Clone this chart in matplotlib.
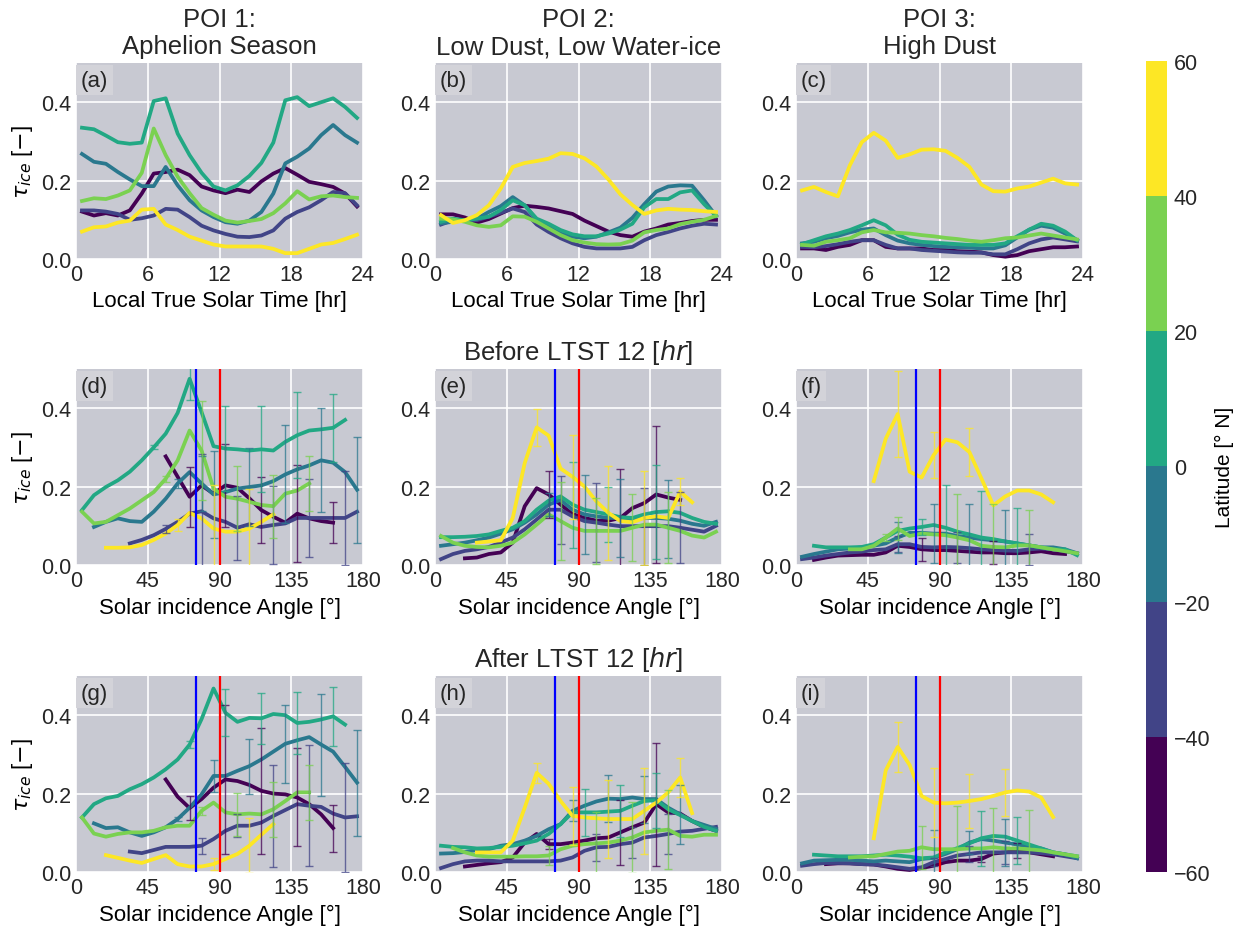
import numpy as np
import matplotlib.pyplot as plt
import matplotlib as mpl

plt.rcParams["font.family"] = ["Liberation Sans", "DejaVu Sans"]
plt.rcParams["axes.facecolor"] = "#c8c9d2"
plt.rcParams["axes.edgecolor"] = "none"
plt.rcParams["grid.color"] = "white"
plt.rcParams["grid.linewidth"] = 1.2
plt.rcParams["xtick.major.size"] = 0
plt.rcParams["ytick.major.size"] = 0
plt.rcParams["xtick.labelsize"] = 15.5
plt.rcParams["ytick.labelsize"] = 15.5
plt.rcParams["text.color"] = "#262626"
plt.rcParams["xtick.color"] = "#262626"
plt.rcParams["ytick.color"] = "#262626"

nan = np.nan

# -- data --
latitudes = [-50, -30, -10, 10, 30, 50]
ltst = np.arange(0.5, 24, 1.0)          # local true solar time bins [hr]
sza = np.arange(3.75, 180, 7.5)         # solar incidence angle bins [deg]
sza_blue = 75
sza_red = 90

# row 1: tau_ice vs LTST, one row per latitude band (-50 ... 50)
tau_a = [
    [0.121,0.111,0.117,0.111,0.124,0.167,0.218,0.222,0.228,0.214,0.185,0.175,0.168,0.177,0.171,0.198,0.218,0.232,0.215,0.197,0.191,0.184,0.167,0.134],
    [0.124,0.124,0.121,0.115,0.100,0.104,0.111,0.128,0.126,0.107,0.085,0.073,0.064,0.057,0.056,0.060,0.073,0.103,0.120,0.132,0.150,0.171,0.168,0.137],
    [0.268,0.248,0.243,0.222,0.203,0.186,0.186,0.235,0.188,0.150,0.124,0.107,0.094,0.090,0.098,0.120,0.167,0.244,0.261,0.282,0.316,0.342,0.316,0.297],
    [0.335,0.331,0.315,0.298,0.294,0.297,0.403,0.410,0.320,0.265,0.220,0.185,0.175,0.188,0.212,0.245,0.297,0.405,0.413,0.390,0.400,0.410,0.388,0.360],
    [0.148,0.155,0.153,0.162,0.175,0.220,0.333,0.265,0.210,0.168,0.130,0.113,0.098,0.093,0.097,0.102,0.117,0.142,0.173,0.152,0.160,0.162,0.158,0.156],
    [0.070,0.081,0.083,0.093,0.098,0.126,0.128,0.088,0.074,0.057,0.047,0.037,0.032,0.032,0.032,0.032,0.026,0.015,0.015,0.026,0.037,0.041,0.051,0.062],
]
tau_b = [
    [0.114,0.114,0.106,0.093,0.102,0.116,0.130,0.136,0.133,0.129,0.122,0.115,0.098,0.084,0.070,0.061,0.057,0.070,0.078,0.088,0.092,0.097,0.100,0.100],
    [0.088,0.099,0.099,0.099,0.108,0.118,0.129,0.120,0.088,0.069,0.053,0.040,0.031,0.027,0.027,0.027,0.031,0.048,0.061,0.069,0.078,0.085,0.090,0.088],
    [0.091,0.095,0.099,0.103,0.120,0.135,0.158,0.137,0.100,0.082,0.065,0.057,0.053,0.057,0.068,0.080,0.105,0.140,0.172,0.185,0.188,0.187,0.150,0.110],
    [0.095,0.103,0.099,0.103,0.108,0.125,0.150,0.137,0.103,0.090,0.074,0.063,0.058,0.058,0.065,0.075,0.090,0.132,0.153,0.153,0.170,0.175,0.140,0.110],
    [0.103,0.101,0.095,0.086,0.082,0.086,0.109,0.108,0.095,0.078,0.061,0.048,0.042,0.038,0.037,0.038,0.047,0.068,0.074,0.078,0.089,0.095,0.100,0.110],
    [0.112,0.092,0.099,0.112,0.137,0.180,0.235,0.245,0.250,0.256,0.270,0.268,0.257,0.236,0.203,0.165,0.138,0.115,0.124,0.128,0.126,0.125,0.122,0.120],
]
tau_c = [
    [0.027,0.027,0.023,0.031,0.036,0.048,0.048,0.031,0.027,0.027,0.027,0.023,0.023,0.020,0.019,0.017,0.010,0.006,0.010,0.020,0.025,0.030,0.030,0.032],
    [0.031,0.030,0.033,0.038,0.044,0.048,0.048,0.036,0.027,0.027,0.023,0.021,0.019,0.017,0.016,0.016,0.012,0.012,0.025,0.040,0.050,0.055,0.050,0.045],
    [0.040,0.044,0.053,0.059,0.068,0.075,0.078,0.061,0.047,0.040,0.036,0.033,0.031,0.030,0.029,0.027,0.027,0.035,0.055,0.075,0.085,0.080,0.065,0.048],
    [0.038,0.048,0.058,0.065,0.074,0.086,0.099,0.086,0.062,0.049,0.044,0.042,0.040,0.038,0.036,0.036,0.036,0.040,0.058,0.075,0.090,0.085,0.070,0.048],
    [0.036,0.034,0.044,0.048,0.053,0.068,0.074,0.068,0.067,0.065,0.061,0.058,0.054,0.051,0.047,0.044,0.048,0.053,0.055,0.060,0.065,0.060,0.055,0.050],
    [0.175,0.184,0.171,0.160,0.239,0.298,0.322,0.302,0.258,0.267,0.279,0.280,0.276,0.258,0.235,0.190,0.173,0.172,0.180,0.185,0.195,0.205,0.193,0.190],
]

# row 2: before LTST 12, tau_ice vs solar incidence angle
tau_d = [
    [nan,nan,nan,nan,nan,nan,nan,0.277,0.225,0.174,0.203,0.182,0.203,0.197,0.170,0.140,0.123,0.108,0.131,0.119,0.112,0.108,nan,nan],
    [nan,nan,nan,nan,0.055,0.064,0.076,0.092,0.110,0.131,0.137,0.119,0.110,0.095,0.104,0.097,0.102,0.106,0.120,0.120,0.120,0.120,0.120,0.136],
    [nan,0.097,0.110,0.119,0.112,0.110,0.136,0.169,0.208,0.237,0.208,0.180,0.186,0.195,0.199,0.203,0.214,0.231,0.244,0.254,0.267,0.261,0.237,0.192],
    [0.140,0.178,0.199,0.216,0.238,0.267,0.300,0.335,0.388,0.475,0.390,0.303,0.297,0.295,0.292,0.295,0.292,0.314,0.331,0.343,0.346,0.350,0.370,nan],
    [0.136,0.106,0.110,0.127,0.144,0.165,0.186,0.220,0.267,0.343,0.292,0.195,0.174,0.169,0.161,0.153,0.150,0.182,0.190,0.208,nan,nan,nan,nan],
    [nan,nan,0.044,0.044,0.045,0.051,0.064,0.080,0.102,0.133,0.119,0.093,0.085,0.085,0.093,0.110,0.129,nan,nan,nan,nan,nan,nan,nan],
]
tau_e = [
    [nan,nan,0.017,0.019,0.028,0.032,0.057,0.150,0.196,0.180,0.154,0.130,0.120,0.113,0.113,0.120,0.145,0.158,0.180,0.172,0.166,nan,nan,nan],
    [0.015,0.028,0.036,0.040,0.046,0.057,0.070,0.091,0.116,0.141,0.141,0.124,0.112,0.108,0.103,0.099,0.099,0.099,0.099,0.099,0.095,0.090,0.085,0.100],
    [0.049,0.053,0.057,0.063,0.070,0.080,0.091,0.108,0.129,0.154,0.166,0.141,0.129,0.124,0.120,0.120,0.116,0.120,0.120,0.118,0.113,0.105,0.100,0.110],
    [0.071,0.071,0.072,0.074,0.078,0.087,0.095,0.112,0.141,0.164,0.175,0.154,0.141,0.135,0.129,0.122,0.120,0.129,0.135,0.137,0.133,0.120,0.110,0.105],
    [0.074,0.057,0.049,0.046,0.045,0.049,0.057,0.078,0.103,0.129,0.112,0.095,0.087,0.087,0.087,0.087,0.095,0.103,0.103,0.095,0.087,0.075,0.070,0.085],
    [nan,nan,nan,0.057,0.060,0.063,0.120,0.260,0.351,0.330,0.246,0.225,0.200,0.162,0.133,0.112,0.109,0.120,0.124,0.120,0.187,0.160,nan,nan],
]
tau_f = [
    [nan,0.013,0.019,0.024,0.025,0.026,0.026,0.032,0.049,0.046,0.040,0.038,0.038,0.036,0.034,0.032,0.032,0.030,0.030,0.032,0.035,0.030,0.028,nan],
    [0.015,0.019,0.024,0.028,0.032,0.034,0.038,0.040,0.053,0.053,0.046,0.045,0.046,0.045,0.043,0.040,0.038,0.037,0.036,0.040,0.042,0.040,0.035,0.030],
    [0.021,0.028,0.034,0.040,0.042,0.045,0.049,0.055,0.070,0.082,0.082,0.080,0.080,0.074,0.070,0.066,0.063,0.060,0.055,0.050,0.045,0.045,0.040,0.030],
    [nan,0.049,0.045,0.045,0.045,0.046,0.053,0.070,0.087,0.093,0.097,0.102,0.095,0.085,0.078,0.070,0.066,0.060,0.055,0.050,0.045,0.040,0.040,0.025],
    [nan,nan,nan,nan,0.040,0.040,0.049,0.070,0.093,0.074,0.080,0.078,0.076,0.070,0.063,0.049,0.046,0.045,0.050,0.050,0.045,0.040,0.035,0.030],
    [nan,nan,nan,nan,nan,nan,0.214,0.322,0.385,0.238,0.223,0.280,0.320,0.313,0.288,0.221,0.152,0.175,0.190,0.190,0.180,0.160,nan,nan],
]

# row 3: after LTST 12
tau_g = [
    [nan,nan,nan,nan,nan,nan,nan,0.236,0.192,0.163,0.186,0.215,0.236,0.232,0.222,0.207,0.200,0.198,0.190,0.173,0.147,0.112,nan,nan],
    [nan,nan,nan,nan,0.052,0.048,0.056,0.064,0.064,0.064,0.067,0.084,0.105,0.118,0.118,0.126,0.143,0.158,0.173,0.169,0.166,0.149,0.139,0.142],
    [nan,0.124,0.112,0.114,0.101,0.092,0.101,0.114,0.135,0.164,0.198,0.245,0.245,0.258,0.270,0.287,0.307,0.327,0.336,0.344,0.325,0.307,0.268,0.228],
    [0.139,0.173,0.188,0.194,0.211,0.224,0.241,0.262,0.287,0.325,0.390,0.468,0.406,0.383,0.393,0.392,0.403,0.400,0.380,0.383,0.389,0.397,0.376,nan],
    [0.139,0.098,0.090,0.097,0.101,0.101,0.105,0.114,0.118,0.118,0.156,0.177,0.152,0.147,0.149,0.147,0.160,0.181,0.203,0.203,nan,nan,nan,nan],
    [nan,nan,0.043,0.036,0.029,0.023,0.033,0.043,0.020,0.014,0.014,0.020,0.033,0.046,0.067,0.095,0.122,nan,nan,nan,nan,nan,nan,nan],
]
tau_h = [
    [nan,nan,0.014,0.018,0.022,0.025,0.037,0.075,0.097,0.071,0.071,0.075,0.080,0.086,0.088,0.101,0.114,0.126,0.173,0.152,0.149,0.130,0.115,0.105],
    [0.010,0.020,0.027,0.029,0.029,0.027,0.027,0.027,0.027,0.027,0.029,0.037,0.054,0.063,0.064,0.071,0.075,0.088,0.092,0.097,0.103,0.105,0.110,0.115],
    [0.047,0.048,0.051,0.056,0.058,0.067,0.071,0.080,0.092,0.109,0.122,0.156,0.169,0.180,0.187,0.186,0.190,0.186,0.186,0.164,0.147,0.130,0.120,0.110],
    [0.067,0.064,0.063,0.060,0.061,0.064,0.067,0.073,0.080,0.097,0.122,0.152,0.152,0.152,0.154,0.156,0.169,0.181,0.183,0.160,0.145,0.130,0.115,0.105],
    [nan,0.061,0.050,0.042,0.039,0.039,0.039,0.040,0.040,0.042,0.058,0.067,0.071,0.073,0.075,0.080,0.088,0.101,0.105,0.108,0.092,0.090,0.095,0.095],
    [nan,nan,nan,0.050,0.050,0.050,0.080,0.164,0.253,0.225,0.181,0.143,0.139,0.137,0.135,0.135,0.135,0.156,0.177,0.203,0.241,0.150,nan,nan],
]
tau_i = [
    [nan,nan,0.020,0.022,0.022,0.020,0.019,0.014,0.008,0.005,0.010,0.016,0.025,0.029,0.029,0.033,0.047,0.050,0.055,0.050,0.045,0.040,nan,nan],
    [0.016,0.020,0.023,0.023,0.022,0.020,0.019,0.016,0.012,0.008,0.012,0.025,0.033,0.042,0.046,0.050,0.050,0.050,0.050,0.050,0.048,0.045,0.040,0.035],
    [0.022,0.029,0.030,0.031,0.031,0.029,0.027,0.029,0.027,0.025,0.033,0.036,0.046,0.058,0.075,0.084,0.080,0.075,0.070,0.065,0.060,0.050,0.045,0.035],
    [nan,0.044,0.042,0.040,0.040,0.040,0.042,0.044,0.042,0.039,0.035,0.037,0.050,0.061,0.073,0.086,0.092,0.090,0.080,0.070,0.060,0.050,0.045,0.040],
    [nan,nan,nan,nan,0.037,0.039,0.040,0.046,0.052,0.054,0.063,0.058,0.058,0.058,0.060,0.060,0.063,0.060,0.060,0.058,0.055,0.050,0.045,0.040],
    [nan,nan,nan,nan,nan,nan,0.086,0.259,0.319,0.273,0.194,0.177,0.175,0.177,0.181,0.186,0.194,0.203,0.208,0.205,0.190,0.140,nan,nan],
]

# error bars: (bin index, half width) for each latitude band
err_d = [
    [(9,0.077),(12,0.106),(15,0.085),(18,0.123),(21,0.052)],
    [(7,0.01),(10,0.145),(13,0.082),(16,0.10),(19,0.10),(22,0.12)],
    [(8,0.012),(10,0.07),(11,0.11),(14,0.10),(17,0.125),(20,0.133),(23,0.135)],
    [(6,0.005),(9,0.053),(12,0.108),(15,0.11),(18,0.11),(21,0.087)],
    [(7,0.008),(10,0.127),(13,0.083),(16,0.08),(19,0.07)],
    [(8,0.016),(11,0.11),(14,0.10)],
]
err_e = [
    [(9,0.06),(15,0.124),(18,0.174)],
    [(10,0.087),(13,0.10),(17,0.098),(20,0.09)],
    [(9,0.03),(12,0.10),(15,0.10),(19,0.10)],
    [(11,0.11),(14,0.07),(18,0.12)],
    [(10,0.10),(13,0.085),(16,0.085),(19,0.09)],
    [(8,0.048),(11,0.107),(14,0.12),(17,0.12),(20,0.035)],
]
err_f = [
    [(10,0.03),(16,0.03)],
    [(8,0.02),(13,0.04),(19,0.04)],
    [(8,0.04),(11,0.075),(14,0.085),(17,0.08)],
    [(10,0.02),(12,0.11),(15,0.12),(18,0.09)],
    [(7,0.01),(8,0.03),(13,0.11),(16,0.11),(19,0.09)],
    [(8,0.11),(11,0.058),(14,0.062)],
]
err_g = [
    [(9,0.03),(12,0.19),(15,0.16),(18,0.125),(21,0.06)],
    [(10,0.02),(13,0.03),(16,0.13),(19,0.155),(22,0.14)],
    [(8,0.005),(11,0.04),(14,0.07),(17,0.10),(20,0.13),(23,0.135)],
    [(9,0.01),(12,0.06),(15,0.065),(18,0.08),(21,0.075)],
    [(10,0.01),(13,0.055),(16,0.07),(19,0.07)],
    [(11,0.016),(14,0.07)],
]
err_h = [
    [(9,0.013),(15,0.082),(18,0.157)],
    [(13,0.035),(16,0.04),(19,0.05)],
    [(11,0.027),(14,0.06),(17,0.06),(20,0.075)],
    [(12,0.06),(15,0.066),(18,0.07)],
    [(9,0.023),(13,0.08),(16,0.09),(19,0.10)],
    [(8,0.025),(11,0.075),(14,0.10),(17,0.11),(20,0.05)],
]
err_i = [
    [(15,0.008),(18,0.02)],
    [(11,0.01),(14,0.02),(17,0.03)],
    [(11,0.07),(14,0.03),(17,0.06)],
    [(15,0.07),(18,0.06)],
    [(10,0.055),(13,0.11),(16,0.10),(19,0.10)],
    [(8,0.063),(11,0.088),(14,0.07),(17,0.06)],
]

col_titles = ["POI 1:\nAphelion Season", "POI 2:\nLow Dust, Low Water-ice", "POI 3:\nHigh Dust"]
panel_tags = ["(a)", "(b)", "(c)", "(d)", "(e)", "(f)", "(g)", "(h)", "(i)"]

# -- colours --
cmap = plt.get_cmap("viridis", 6)
bounds = np.arange(-60, 61, 20)
norm = mpl.colors.BoundaryNorm(bounds, cmap.N)
colors = [cmap(norm(lat)) for lat in latitudes]

# -- figure --
fig = plt.figure(figsize=(12.44, 9.28), dpi=100)
lefts = [0.0611, 0.3497, 0.6399]
bottoms = [0.7198, 0.3901, 0.0593]
w, h = 0.2307, 0.2112

row_data = [(tau_a, tau_b, tau_c), (tau_d, tau_e, tau_f), (tau_g, tau_h, tau_i)]
row_err = [(None, None, None), (err_d, err_e, err_f), (err_g, err_h, err_i)]

for r in range(3):
    for c in range(3):
        ax = fig.add_axes([lefts[c], bottoms[r], w, h])
        ax.grid(True)
        ax.set_axisbelow(True)
        rows = row_data[r][c]
        if r == 0:
            x = ltst
        else:
            x = sza
            ax.axvline(sza_blue, color="blue", lw=1.6, zorder=4)
            ax.axvline(sza_red, color="red", lw=1.6, zorder=4)
        for i in range(6):
            y = np.array(rows[i], dtype=float)
            ax.plot(x, y, color=colors[i], lw=2.7, zorder=3)
            if r > 0:
                errs = row_err[r][c][i]
                ks = [k for k, _ in errs]
                hw = [e for _, e in errs]
                ax.errorbar(x[ks], y[ks], yerr=hw, fmt="none", ecolor=colors[i],
                            elinewidth=1.0, capsize=3, capthick=1.0, alpha=0.75, zorder=5)
        ax.set_ylim(0, 0.5)
        ax.set_yticks([0.0, 0.2, 0.4])
        if r == 0:
            ax.set_xlim(0, 24)
            ax.set_xticks([0, 6, 12, 18, 24])
            ax.set_xlabel("Local True Solar Time [hr]", fontsize=16)
            ax.set_title(col_titles[c], fontsize=18.5, pad=7)
        else:
            ax.set_xlim(0, 180)
            ax.set_xticks([0, 45, 90, 135, 180])
            ax.set_xlabel("Solar incidence Angle [°]", fontsize=16)
        if r == 1 and c == 1:
            ax.set_title("Before LTST 12 [$hr$]", fontsize=18.5, pad=7)
        if r == 2 and c == 1:
            ax.set_title("After LTST 12 [$hr$]", fontsize=18.5, pad=7)
        if c == 0:
            ax.set_ylabel(r"$\tau_{ice}$ [$-$]", fontsize=16)
        ax.text(0.017, 0.965, panel_tags[r * 3 + c], transform=ax.transAxes,
                ha="left", va="top", fontsize=16, zorder=6,
                bbox=dict(boxstyle="square,pad=0.2", fc="#d3d3d9", ec="none"))

# colorbar
cax = fig.add_axes([0.9212, 0.0593, 0.0169, 0.874])
cb = fig.colorbar(mpl.cm.ScalarMappable(norm=norm, cmap=cmap), cax=cax, ticks=bounds)
cb.outline.set_visible(False)
cb.ax.tick_params(length=0, labelsize=15.5, pad=5)
cb.set_label("Latitude [° N]", fontsize=15, labelpad=3)

fig.savefig("out.png", dpi=100)
